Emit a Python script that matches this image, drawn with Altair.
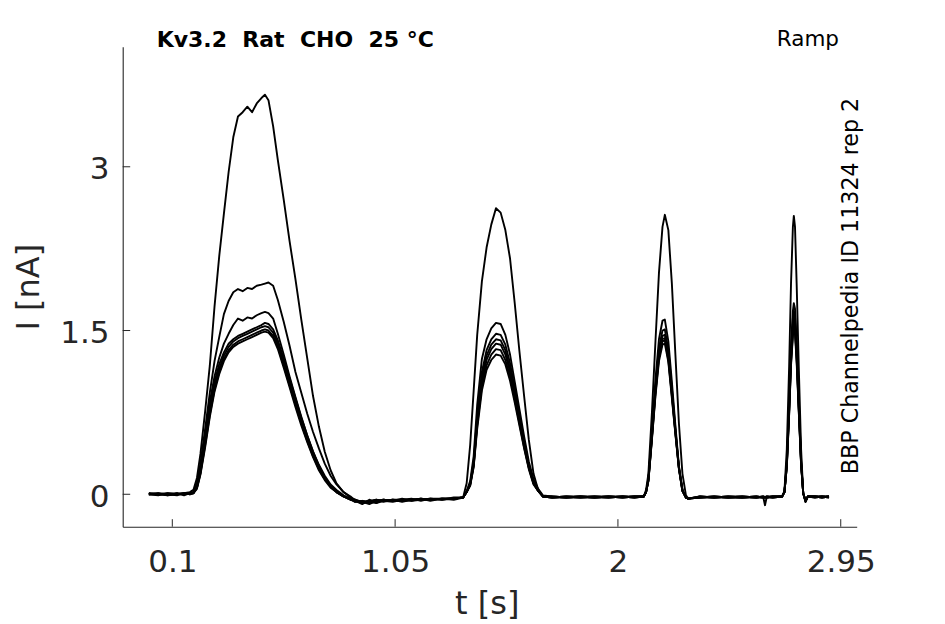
import altair as alt
import pandas as pd

# ---- time grid (s) ----
time_s = [
    0.00, 0.04, 0.08, 0.12, 0.15, 0.175,
    0.19, 0.205, 0.22, 0.24, 0.26, 0.28, 0.30, 0.32, 0.34, 0.36, 0.38, 0.40, 0.42, 0.44, 0.46, 0.48,
    0.495, 0.51, 0.53, 0.55, 0.575, 0.60, 0.625, 0.65, 0.675, 0.70, 0.725, 0.75, 0.775, 0.80, 0.83, 0.86,
    0.88, 0.91, 0.94, 0.97, 1.00, 1.04, 1.08, 1.12, 1.16, 1.20, 1.25, 1.30,
    1.34, 1.355, 1.37, 1.385, 1.40, 1.42, 1.44, 1.46, 1.48, 1.50, 1.52, 1.54, 1.56, 1.58, 1.60, 1.62, 1.64, 1.66, 1.68,
    1.72, 1.78, 1.84, 1.90, 1.96, 2.02, 2.07,
    2.11, 2.12, 2.13, 2.145, 2.16, 2.175, 2.19, 2.20, 2.215, 2.23, 2.245, 2.26, 2.275, 2.29, 2.30,
    2.35, 2.41, 2.47, 2.53, 2.59, 2.62, 2.627, 2.634, 2.66,
    2.70, 2.71, 2.72, 2.73, 2.738, 2.746, 2.75, 2.755, 2.762, 2.771, 2.781, 2.79, 2.80, 2.81,
    2.84, 2.87, 2.90,
]

# ---- current traces (nA), one per sweep ----
sweep_1 = [
    0.00, -0.01, 0.01, 0.00, 0.01, 0.02,
    0.04, 0.15, 0.37, 0.76, 1.18, 1.72, 2.18, 2.57, 2.95, 3.27, 3.46, 3.50, 3.55, 3.50, 3.58, 3.63,
    3.66, 3.61, 3.37, 3.06, 2.70, 2.32, 1.97, 1.60, 1.25, 0.90, 0.62, 0.39, 0.22, 0.10, 0.02, -0.02,
    -0.06, -0.09, -0.05, -0.08, -0.05, -0.06, -0.04, -0.06, -0.04, -0.05, -0.04, -0.04,
    -0.03, 0.10, 0.45, 0.95, 1.46, 1.95, 2.26, 2.47, 2.62, 2.58, 2.42, 2.16, 1.75, 1.31, 0.90, 0.50, 0.19, 0.04, -0.02,
    -0.03, -0.03, -0.02, -0.03, -0.02, -0.03, -0.02,
    -0.02, 0.04, 0.19, 0.75, 1.40, 2.03, 2.45, 2.56, 2.42, 1.93, 1.28, 0.65, 0.19, -0.01, -0.04,
    -0.03, -0.03, -0.02, -0.03, -0.02, -0.03, -0.10, -0.03, -0.02,
    -0.02, 0.03, 0.41, 1.17, 1.93, 2.45, 2.55, 2.45, 1.93, 1.17, 0.41, 0.01, -0.07, -0.02,
    -0.02, -0.03, -0.02,
]
sweep_2 = [
    0.00, 0.00, -0.01, 0.01, 0.00, 0.01,
    0.02, 0.10, 0.28, 0.60, 0.93, 1.22, 1.44, 1.65, 1.77, 1.85, 1.88, 1.86, 1.89, 1.88, 1.91, 1.92,
    1.93, 1.94, 1.91, 1.78, 1.58, 1.36, 1.12, 0.93, 0.74, 0.57, 0.42, 0.28, 0.17, 0.09, 0.02, -0.03,
    -0.05, -0.07, -0.06, -0.05, -0.07, -0.05, -0.05, -0.04, -0.06, -0.04, -0.05, -0.03,
    -0.03, 0.03, 0.12, 0.35, 0.82, 1.24, 1.42, 1.52, 1.57, 1.56, 1.46, 1.28, 1.03, 0.78, 0.53, 0.30, 0.14, 0.05, -0.01,
    -0.02, -0.03, -0.03, -0.02, -0.03, -0.02, -0.03,
    -0.02, 0.02, 0.15, 0.58, 1.05, 1.42, 1.59, 1.60, 1.40, 1.03, 0.63, 0.26, 0.04, -0.03, -0.04,
    -0.03, -0.02, -0.03, -0.03, -0.02, -0.03, -0.03, -0.02, -0.03,
    -0.02, 0.02, 0.30, 0.85, 1.36, 1.68, 1.75, 1.70, 1.40, 0.88, 0.32, 0.01, -0.07, -0.02,
    -0.02, -0.02, -0.03,
]
sweep_3 = [
    0.01, 0.00, 0.00, -0.01, 0.01, 0.01,
    0.02, 0.09, 0.25, 0.55, 0.85, 1.08, 1.25, 1.38, 1.47, 1.55, 1.61, 1.59, 1.62, 1.61, 1.64, 1.66,
    1.67, 1.66, 1.61, 1.47, 1.28, 1.08, 0.89, 0.71, 0.54, 0.39, 0.26, 0.15, 0.07, 0.02, -0.02, -0.04,
    -0.06, -0.08, -0.07, -0.05, -0.06, -0.07, -0.05, -0.05, -0.04, -0.05, -0.04, -0.04,
    -0.03, 0.02, 0.10, 0.30, 0.72, 1.12, 1.32, 1.42, 1.47, 1.46, 1.37, 1.20, 0.97, 0.73, 0.49, 0.27, 0.12, 0.04, -0.02,
    -0.03, -0.02, -0.03, -0.03, -0.02, -0.03, -0.02,
    -0.02, 0.02, 0.14, 0.55, 0.99, 1.34, 1.50, 1.51, 1.32, 0.97, 0.60, 0.25, 0.04, -0.03, -0.04,
    -0.02, -0.03, -0.03, -0.02, -0.03, -0.02, -0.03, -0.03, -0.02,
    -0.02, 0.02, 0.28, 0.81, 1.30, 1.61, 1.68, 1.63, 1.34, 0.84, 0.30, 0.01, -0.06, -0.02,
    -0.03, -0.02, -0.02,
]
sweep_4 = [
    0.00, 0.01, -0.01, 0.00, 0.00, 0.01,
    0.01, 0.07, 0.22, 0.50, 0.80, 1.03, 1.19, 1.30, 1.38, 1.42, 1.45, 1.47, 1.49, 1.51, 1.53, 1.55,
    1.57, 1.56, 1.51, 1.41, 1.24, 1.06, 0.88, 0.70, 0.54, 0.39, 0.27, 0.17, 0.09, 0.04, -0.01, -0.04,
    -0.07, -0.06, -0.08, -0.06, -0.05, -0.06, -0.06, -0.05, -0.05, -0.04, -0.04, -0.05,
    -0.03, 0.02, 0.09, 0.28, 0.68, 1.07, 1.27, 1.37, 1.42, 1.41, 1.32, 1.15, 0.93, 0.70, 0.47, 0.26, 0.11, 0.03, -0.02,
    -0.02, -0.03, -0.02, -0.02, -0.03, -0.02, -0.03,
    -0.02, 0.02, 0.13, 0.53, 0.96, 1.30, 1.45, 1.46, 1.28, 0.94, 0.58, 0.24, 0.04, -0.03, -0.04,
    -0.03, -0.02, -0.03, -0.02, -0.03, -0.03, -0.02, -0.03, -0.03,
    -0.02, 0.02, 0.27, 0.78, 1.26, 1.56, 1.63, 1.58, 1.30, 0.81, 0.29, 0.01, -0.06, -0.02,
    -0.02, -0.03, -0.02,
]
sweep_5 = [
    0.01, 0.00, 0.00, 0.01, -0.01, 0.01,
    0.01, 0.06, 0.20, 0.47, 0.76, 0.99, 1.15, 1.27, 1.35, 1.40, 1.43, 1.45, 1.47, 1.49, 1.51, 1.53,
    1.54, 1.53, 1.48, 1.38, 1.21, 1.03, 0.85, 0.67, 0.51, 0.37, 0.25, 0.15, 0.08, 0.03, -0.02, -0.05,
    -0.05, -0.08, -0.06, -0.07, -0.06, -0.05, -0.07, -0.05, -0.04, -0.06, -0.04, -0.04,
    -0.03, 0.02, 0.09, 0.27, 0.65, 1.03, 1.23, 1.33, 1.38, 1.37, 1.28, 1.12, 0.90, 0.68, 0.45, 0.25, 0.10, 0.03, -0.02,
    -0.03, -0.02, -0.03, -0.02, -0.02, -0.03, -0.02,
    -0.02, 0.02, 0.13, 0.52, 0.94, 1.27, 1.42, 1.43, 1.25, 0.92, 0.57, 0.24, 0.03, -0.03, -0.04,
    -0.02, -0.03, -0.02, -0.03, -0.03, -0.02, -0.03, -0.02, -0.03,
    -0.02, 0.02, 0.26, 0.76, 1.22, 1.51, 1.58, 1.53, 1.26, 0.79, 0.28, 0.01, -0.06, -0.02,
    -0.02, -0.02, -0.03,
]
sweep_6 = [
    0.00, 0.00, 0.01, 0.00, 0.01, 0.00,
    0.01, 0.06, 0.19, 0.45, 0.73, 0.96, 1.12, 1.24, 1.32, 1.37, 1.40, 1.42, 1.44, 1.46, 1.48, 1.50,
    1.51, 1.50, 1.45, 1.35, 1.18, 1.00, 0.82, 0.65, 0.49, 0.35, 0.23, 0.14, 0.07, 0.02, -0.02, -0.05,
    -0.06, -0.07, -0.09, -0.06, -0.05, -0.06, -0.05, -0.06, -0.05, -0.04, -0.05, -0.04,
    -0.03, 0.02, 0.08, 0.26, 0.63, 0.99, 1.18, 1.28, 1.33, 1.32, 1.23, 1.08, 0.87, 0.65, 0.43, 0.24, 0.10, 0.03, -0.02,
    -0.02, -0.03, -0.02, -0.03, -0.02, -0.02, -0.03,
    -0.02, 0.02, 0.12, 0.51, 0.92, 1.25, 1.40, 1.41, 1.23, 0.90, 0.56, 0.24, 0.03, -0.03, -0.04,
    -0.03, -0.02, -0.03, -0.03, -0.02, -0.03, -0.03, -0.02, -0.02,
    -0.02, 0.02, 0.25, 0.74, 1.20, 1.48, 1.55, 1.50, 1.24, 0.77, 0.27, 0.01, -0.06, -0.02,
    -0.03, -0.02, -0.02,
]
sweep_7 = [
    0.00, 0.01, 0.00, 0.00, 0.01, 0.00,
    0.01, 0.05, 0.18, 0.43, 0.71, 0.94, 1.10, 1.22, 1.30, 1.35, 1.38, 1.40, 1.42, 1.44, 1.46, 1.48,
    1.49, 1.48, 1.43, 1.33, 1.16, 0.98, 0.80, 0.63, 0.48, 0.34, 0.22, 0.13, 0.06, 0.02, -0.02, -0.05,
    -0.07, -0.06, -0.07, -0.08, -0.06, -0.05, -0.06, -0.05, -0.05, -0.05, -0.04, -0.04,
    -0.03, 0.02, 0.08, 0.25, 0.60, 0.95, 1.14, 1.23, 1.28, 1.27, 1.19, 1.04, 0.84, 0.63, 0.42, 0.23, 0.09, 0.03, -0.02,
    -0.03, -0.02, -0.02, -0.03, -0.03, -0.02, -0.02,
    -0.02, 0.02, 0.12, 0.50, 0.90, 1.22, 1.37, 1.38, 1.21, 0.88, 0.55, 0.23, 0.03, -0.03, -0.04,
    -0.02, -0.03, -0.02, -0.02, -0.03, -0.02, -0.03, -0.03, -0.02,
    -0.02, 0.02, 0.25, 0.73, 1.18, 1.45, 1.52, 1.47, 1.21, 0.76, 0.27, 0.01, -0.06, -0.02,
    -0.02, -0.03, -0.02,
]

sweeps = [sweep_1, sweep_2, sweep_3, sweep_4, sweep_5, sweep_6, sweep_7]

# ---- axis ticks and texts ----
x_tick_values = [0.1, 1.05, 2, 2.95]
y_tick_values = [0, 1.5, 3]
x_domain = [-0.1115, 3.018]
y_domain = [-0.297, 4.1]
title_text = "Kv3.2\u00a0\u00a0Rat\u00a0\u00a0CHO\u00a0\u00a025 °C"
protocol_text = "Ramp"
source_text = "BBP Channelpedia ID 11324 rep 2"
x_title = "t [s]"
y_title = "I [nA]"

W, H = 734, 480
AX = "#262626"

rows = []
for i, s in enumerate(sweeps):
    assert len(s) == len(time_s), (i, len(s), len(time_s))
    for t, v in zip(time_s, s):
        rows.append({"sweep": i + 1, "t": t, "I": v})
df = pd.DataFrame(rows)

xscale = alt.Scale(domain=x_domain, nice=False, zero=False)
yscale = alt.Scale(domain=y_domain, nice=False, zero=False)

x_axis = alt.Axis(
    title=x_title, values=x_tick_values, format=".3~g",
    labelBaseline="alphabetic", labelPadding=44.8,
    titleX=364, titleY=87, titleBaseline="alphabetic", titleAlign="center",
)
y_axis = alt.Axis(
    title=y_title, values=y_tick_values, format=".3~g",
    labelBaseline="alphabetic", labelOffset=12, labelPadding=13.7,
    titleX=-84.4, titleY=240, titleAngle=270, titleBaseline="alphabetic", titleAlign="center",
)

lines = alt.Chart(df).mark_line(color="black", strokeWidth=1.9, strokeJoin="round").encode(
    x=alt.X("t:Q", scale=xscale, axis=x_axis),
    y=alt.Y("I:Q", scale=yscale, axis=y_axis),
    detail="sweep:N",
)

xt = alt.Chart(pd.DataFrame({"t": x_tick_values})).mark_rule(color=AX, strokeWidth=1).encode(
    x=alt.X("t:Q", scale=xscale, axis=x_axis),
    y=alt.value(H), y2=alt.value(H - 7.5),
)
yt = alt.Chart(pd.DataFrame({"I": y_tick_values})).mark_rule(color=AX, strokeWidth=1).encode(
    y=alt.Y("I:Q", scale=yscale, axis=y_axis),
    x=alt.value(0), x2=alt.value(7.5),
)

title_mark = alt.Chart(pd.DataFrame({"label": [title_text]})).mark_text(
    font="DejaVu Sans", fontSize=22, fontWeight="bold", color="black",
    align="left", baseline="alphabetic",
).encode(x=alt.value(34), y=alt.value(0), text="label:N")

protocol_mark = alt.Chart(pd.DataFrame({"label": [protocol_text]})).mark_text(
    font="DejaVu Sans", fontSize=21.5, color="black",
    align="right", baseline="alphabetic",
).encode(x=alt.value(716.3), y=alt.value(-1), text="label:N")

source_mark = alt.Chart(pd.DataFrame({"label": [source_text]})).mark_text(
    font="DejaVu Sans", fontSize=22.2, color="black", angle=270,
    align="center", baseline="alphabetic",
).encode(x=alt.value(735.3), y=alt.value(239.3), text="label:N")

chart = alt.layer(lines, xt, yt, title_mark, protocol_mark, source_mark).properties(
    width=W, height=H,
    autosize=alt.AutoSizeParams(type="none"),
    padding={"left": 114.7, "top": 38.7, "right": 80, "bottom": 97},
    background="white",
).configure_view(stroke=None).configure_axis(
    grid=False, ticks=False, tickSize=0,
    domainColor=AX, domainWidth=1.1,
    labelColor=AX, labelFont="DejaVu Sans", labelFontSize=31, labelFlush=False,
    titleColor=AX, titleFont="DejaVu Sans", titleFontSize=32, titleFontWeight="normal",
)

chart.save("out.html", embed_options={"renderer": "svg", "actions": False})
